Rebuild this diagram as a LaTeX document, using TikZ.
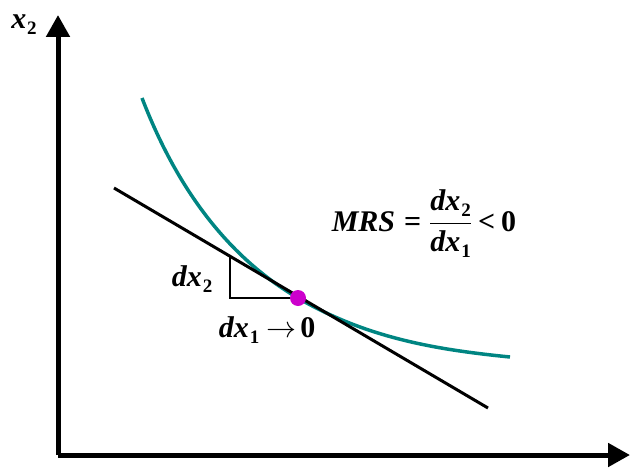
\RequirePackage{fix-cm}
\documentclass[tikz,border=0pt]{standalone}
\usepackage{amsmath}
\usepackage{fontspec}
\setmainfont{Liberation Serif}
\usepackage{tikz}
\usetikzlibrary{arrows.meta}

\definecolor{curveteal}{RGB}{0,133,130}
\definecolor{dotmagenta}{RGB}{204,0,204}
\newcommand{\bi}[1]{\textbf{\textit{#1}}}
\newcommand{\sbs}[1]{\raisebox{-6pt}{\fontsize{19}{20}\selectfont\bfseries\upshape #1}}

\begin{document}
\begin{tikzpicture}[x=1pt,y=1pt]
	\tikzset{axis/.style={line width=5pt,-{Triangle[length=22pt,width=23pt]}},
		lbl/.style={inner sep=0pt,font=\fontsize{30}{34}\selectfont}}
	\useasboundingbox (0,0) rectangle (631,467);

	\coordinate (origin) at (58,12);
	\coordinate (ytop) at (58,452);
	\coordinate (xend) at (630,12);

	\coordinate (tanstart) at (114,279);
	\coordinate (tanend) at (488,59);
	\coordinate (corner) at (230,169);
	\coordinate (cornertop) at (230,210);

	\node [name=xlabel,lbl] at (24,442) {\bi{x}\hspace{1pt}\sbs{2}};
	\node [name=dxtwo,lbl] at (192,188) {\bi{dx}\hspace{1pt}\sbs{2}};
	\node [name=dxone,lbl] at (267,137) {\bi{dx}\hspace{1pt}\sbs{1}\hspace{7pt}$\rightarrow$\hspace{4pt}\textbf{0}};
	\node [name=mrs,lbl] at (424,243) {\bi{MRS}\hspace{9pt}\textbf{=}\hspace{8pt}$\dfrac{\text{\bi{dx}\hspace{1pt}\sbs{2}}}{\text{\bi{dx}\hspace{1pt}\sbs{1}}}$\hspace{6pt}\textbf{<}\hspace{6pt}\textbf{0}};

	% axes
	\draw [axis] (origin) -- (ytop);
	\draw [axis] (origin) -- (xend);

	% indifference curve
	\draw [curveteal,line width=3.5pt] (142,369) .. controls (182,265) and (238,204) .. (298,169)
		.. controls (368,128) and (440,117) .. (510,110);

	% tangent and triangle
	\draw [line width=3pt] (tanstart) -- (tanend);
	\draw [line width=2.5pt] (cornertop) -- (corner) -- (298,169);

	\node [name=point,circle,fill=dotmagenta,minimum size=16pt,inner sep=0pt] at (298,169) {};

\end{tikzpicture}
\end{document}
